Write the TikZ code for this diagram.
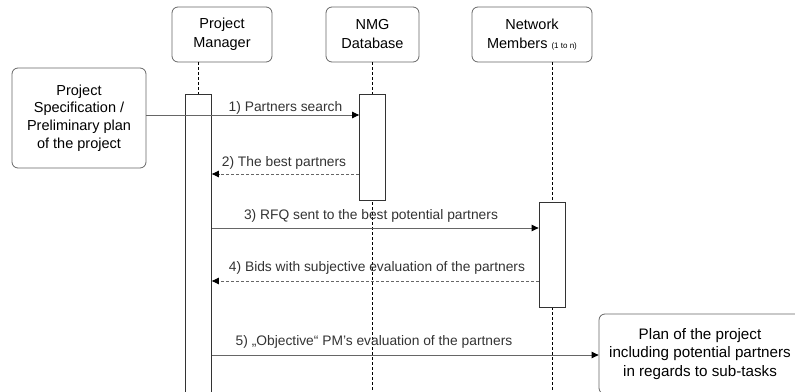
\documentclass[tikz,border=0pt]{standalone}
\usepackage{fontspec}
\setmainfont{Liberation Sans}
\usetikzlibrary{arrows.meta, positioning, calc}
\tikzset{
	>={Triangle[length=7pt, width=6.5pt, color=black]}, % punta de flecha negra
	head/.style={draw=black!60, rounded corners=6pt, line width=0.8pt, align=center,
		inner sep=0pt, font=\fontsize{14.5}{19}\selectfont}, % cabeceras
	note/.style={head, font=\fontsize{14.5}{17.8}\selectfont}, % cajas de entrada/salida
	bar/.style={draw=black!80, fill=white, line width=0.8pt, minimum width=26, inner sep=0pt},
	life/.style={line width=0.7pt, dash pattern=on 3pt off 2pt},
	msg/.style={->, draw=black!60, line width=0.9pt},
	reply/.style={msg, dash pattern=on 3pt off 2pt},
	msgtext/.style={anchor=base, inner sep=0pt, text=black!80, font=\fontsize{13.8}{16}\selectfont}
}

\begin{document}
\begin{tikzpicture}[x=1pt, y=-1pt]
	\clip (0,0) rectangle (795,391);
	% cabeceras
	\node[head, minimum width=100, minimum height=55] (pm) at (222,34.5) {Project\\Manager};
	\node[head, minimum width=93, minimum height=55] (nmg) at (372.5,34.5) {NMG\\Database};
	\node[head, minimum width=120, minimum height=55] (nm) at (532,34.5)
		{Network\\Members {\fontsize{8}{8}\selectfont(1 to n)}};
	% entrada y salida
	\node[note, minimum width=134, minimum height=100] (spec) at (79,118)
		{Project\\Specification /\\Preliminary plan\\of the project};
	\node[note, minimum width=202, minimum height=80, font=\fontsize{15.2}{18.5}\selectfont] (plan) at (700,354)
		{Plan of the project\\including potential partners\\in regards to sub-tasks};
	% lineas de vida
	\coordinate (pmend) at (198.5,395);
	\coordinate (nmgend) at (372.5,395);
	\coordinate (nmend) at (552,395);
	\draw[life] (pm.south -| pmend) -- (pmend);
	\draw[life] (nmg.south) -- (nmgend);
	\draw[life] (nm.south -| nmend) -- (nmend);
	% barras de activacion
	\node[bar, minimum height=306] (pmbar) at (198.5,247) {};
	\node[bar, minimum height=106] (nmgbar) at (372.5,147) {};
	\node[bar, minimum height=105] (nmbar) at (552,254.5) {};
	% mensajes
	\draw[msg] (spec.east |- 0,115) -- (nmgbar.west |- 0,115);
	\draw[reply] (nmgbar.west |- 0,174) -- (pmbar.east |- 0,174);
	\draw[msg] (pmbar.east |- 0,228) -- (nmbar.west |- 0,228);
	\draw[reply] (nmbar.west |- 0,281) -- (pmbar.east |- 0,281);
	\draw[msg] (pmbar.east |- 0,355) -- (plan.west |- 0,355);
	\node[msgtext] (t1) at (285.5,111.5) {1) Partners search};
	\node[msgtext] (t2) at (284,166) {2) The best partners};
	\node[msgtext] (t3) at (371,219) {3) RFQ sent to the best potential partners};
	\node[msgtext] (t4) at (377,271.5) {4) Bids with subjective evaluation of the partners};
	\node[msgtext] (t5) at (374,345) {5) „Objective“ PM's evaluation of the partners};
\end{tikzpicture}
\end{document}
